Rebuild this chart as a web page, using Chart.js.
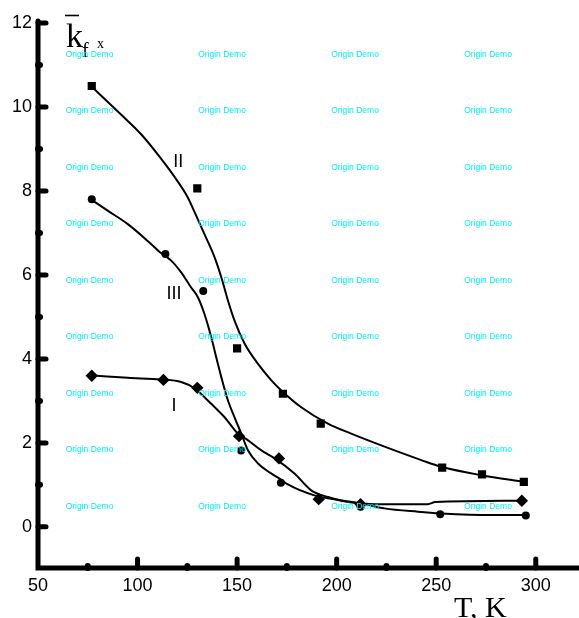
<!DOCTYPE html>
<html>
<head>
<meta charset="utf-8">
<script src="https://cdn.jsdelivr.net/npm/chart.js@4"></script>
<style>
  html, body { margin: 0; padding: 0; background: #fff; overflow: hidden; }
  canvas { display: block; }
</style>
</head>
<body>
<canvas id="c" width="579" height="618"></canvas>
<script>
// Measured points (T in K, mean k_fx)
const tempI   = [77, 113, 130, 151, 171, 191, 212, 293];
const kI      = [3.60, 3.50, 3.31, 2.16, 1.63, 0.66, 0.54, 0.62];
const tempII  = [77, 130, 150, 173, 192, 253, 273, 294];
const kII     = [10.50, 8.06, 4.25, 3.17, 2.46, 1.41, 1.25, 1.07];
const tempIII = [77, 114, 133, 152, 172, 212, 252, 295];
const kIII    = [7.80, 6.50, 5.62, 1.82, 1.05, 0.48, 0.30, 0.27];

// Smoothed curves through each set
const fitTempI  = [76.6, 95.1, 111.8, 121.9, 128.6, 137.0, 143.7, 150.4, 155.5, 162.2, 168.9, 178.8, 187.2, 195.6, 205.6, 219.0, 245.8, 249.5, 291.1];
const fitKI     = [3.61, 3.55, 3.51, 3.45, 3.30, 2.93, 2.61, 2.22, 2.06, 1.82, 1.63, 1.27, 0.87, 0.71, 0.59, 0.54, 0.54, 0.59, 0.62];
const fitTempII = [76.6, 91.7, 101.8, 111.8, 118.5, 125.3, 128.6, 133.6, 138.7, 142.1, 145.4, 148.7, 153.8, 160.5, 167.2, 172.2, 182.2, 195.6, 207.3, 222.4, 242.5, 252.5, 272.6, 294.4];
const fitKII    = [10.50, 9.82, 9.35, 8.77, 8.34, 7.84, 7.50, 6.97, 6.42, 5.94, 5.39, 4.91, 4.36, 3.88, 3.49, 3.25, 2.85, 2.46, 2.22, 1.94, 1.59, 1.43, 1.23, 1.07];
const fitTempIII = [76.6, 85.0, 95.1, 105.1, 111.8, 116.9, 121.9, 126.9, 130.3, 133.6, 137.0, 139.5, 142.1, 145.4, 148.7, 152.1, 155.5, 160.5, 166.5, 172.2, 175.5, 188.8, 202.3, 212.3, 224.0, 240.8, 252.5, 277.6, 294.4];
const fitKIII    = [7.80, 7.53, 7.21, 6.81, 6.52, 6.34, 6.06, 5.70, 5.47, 5.07, 4.52, 4.04, 3.56, 3.01, 2.61, 2.22, 1.82, 1.51, 1.29, 1.12, 1.01, 0.75, 0.63, 0.56, 0.44, 0.36, 0.32, 0.28, 0.28];

// Axis ticks
const xTickValues = [50, 100, 150, 200, 250, 300];
const xMinorValues = [75, 125, 175, 225, 275];
const yTickValues = [0, 2, 4, 6, 8, 10, 12];
const yMinorValues = [1, 3, 5, 7, 9, 11];

// Curve names written beside the lines
const curveNames = ['I', 'II', 'III'];

const pts = (xs, ys) => xs.map((x, i) => ({ x: x, y: ys[i] }));

const fitStyle = { showLine: true, pointRadius: 0, borderColor: '#000', borderWidth: 2,
                   cubicInterpolationMode: 'monotone', fill: false };
const markStyle = { showLine: false, backgroundColor: '#000', borderColor: '#000', borderWidth: 0 };

const decorPlugin = {
  id: 'decor',
  afterDatasetsDraw(chart) {
    const ctx = chart.ctx;
    const xs = chart.scales.x, ys = chart.scales.y;
    const a = chart.chartArea;
    const x0 = a.left, y0 = a.bottom;
    ctx.save();
    ctx.strokeStyle = '#000';
    ctx.lineCap = 'round';

    // axis lines
    ctx.lineWidth = 5;
    ctx.beginPath();
    ctx.moveTo(x0, a.top - 2);
    ctx.lineTo(x0, y0);
    ctx.lineTo(chart.width + 5, y0);
    ctx.stroke();

    // major ticks, pointing into the plot
    ctx.lineWidth = 5;
    yTickValues.forEach(v => {
      const p = ys.getPixelForValue(v);
      ctx.beginPath(); ctx.moveTo(x0, p); ctx.lineTo(x0 + 8, p); ctx.stroke();
    });
    xTickValues.filter(v => v > 50).forEach(v => {
      const p = xs.getPixelForValue(v);
      ctx.beginPath(); ctx.moveTo(p, y0); ctx.lineTo(p, y0 - 9); ctx.stroke();
    });
    // minor ticks as short round bumps
    ctx.lineWidth = 6;
    yMinorValues.forEach(v => {
      const p = ys.getPixelForValue(v);
      ctx.beginPath(); ctx.moveTo(x0, p); ctx.lineTo(x0 + 2, p); ctx.stroke();
    });
    xMinorValues.forEach(v => {
      const p = xs.getPixelForValue(v);
      ctx.beginPath(); ctx.moveTo(p, y0); ctx.lineTo(p, y0 - 2); ctx.stroke();
    });

    // curve names
    ctx.fillStyle = '#000';
    ctx.font = '18px "Liberation Sans", Arial, sans-serif';
    ctx.textAlign = 'center';
    ctx.textBaseline = 'middle';
    const namePos = { 'I': [118.3, 2.89], 'II': [120.4, 8.71], 'III': [118.3, 5.58] };
    curveNames.forEach(n => {
      const [tx, ty] = namePos[n];
      ctx.fillText(n, xs.getPixelForValue(tx), ys.getPixelForValue(ty) + 1);
    });

    // axis titles
    ctx.textAlign = 'left';
    ctx.textBaseline = 'alphabetic';
    ctx.font = '30px "Liberation Serif", "Times New Roman", serif';
    ctx.fillText('T, K', 454, 617);

    ctx.font = '34px "Liberation Serif", "Times New Roman", serif';
    ctx.fillText('k', 66, 47);
    ctx.lineWidth = 1.6;
    ctx.lineCap = 'butt';
    ctx.beginPath(); ctx.moveTo(65, 15.5); ctx.lineTo(79, 15.5); ctx.stroke();
    ctx.font = '20px "Liberation Serif", "Times New Roman", serif';
    ctx.fillText('f', 82, 57);
    ctx.font = '14px "Liberation Serif", "Times New Roman", serif';
    ctx.fillText('x', 97, 48);

    // demo watermark grid
    ctx.fillStyle = '#00f0f0';
    ctx.font = '8.5px "Liberation Sans", Arial, sans-serif';
    ctx.textAlign = 'center';
    ctx.textBaseline = 'middle';
    const cols = [89.5, 222, 355, 488];
    for (let r = 0; r < 9; r++) {
      const yy = 54.5 + r * 56.5;
      cols.forEach(cx => ctx.fillText('Origin Demo', cx, yy));
    }
    ctx.restore();
  }
};

new Chart(document.getElementById('c'), {
  type: 'scatter',
  data: {
    datasets: [
      Object.assign({ data: pts(fitTempI, fitKI) }, fitStyle),
      Object.assign({ data: pts(fitTempII, fitKII) }, fitStyle),
      Object.assign({ data: pts(fitTempIII, fitKIII) }, fitStyle),
      Object.assign({ data: pts(tempI, kI), pointStyle: 'rectRot', pointRadius: 6.2 }, markStyle),
      Object.assign({ data: pts(tempII, kII), pointStyle: 'rect', pointRadius: 5.8 }, markStyle),
      Object.assign({ data: pts(tempIII, kIII), pointStyle: 'circle', pointRadius: 4 }, markStyle)
    ]
  },
  options: {
    responsive: false,
    animation: false,
    devicePixelRatio: 1,
    layout: { padding: { top: 23, right: 0, left: 0, bottom: 0 } },
    plugins: { legend: { display: false }, tooltip: { enabled: false } },
    elements: { point: { hoverRadius: 0 } },
    scales: {
      x: {
        type: 'linear', min: 50, max: 318.6,
        grid: { display: false, drawTicks: false },
        border: { display: false },
        afterFit: s => { s.height = 50; },
        afterBuildTicks: s => { s.ticks = xTickValues.map(v => ({ value: v })); },
        ticks: { color: '#000', padding: 7, font: { family: '"Liberation Sans", Arial, sans-serif', size: 18 } }
      },
      y: {
        type: 'linear', min: -0.98, max: 12,
        grid: { display: false, drawTicks: false },
        border: { display: false },
        afterFit: s => { s.width = 38; },
        afterBuildTicks: s => { s.ticks = yTickValues.map(v => ({ value: v })); },
        ticks: { color: '#000', padding: 6, font: { family: '"Liberation Sans", Arial, sans-serif', size: 18 } }
      }
    }
  },
  plugins: [decorPlugin]
});
</script>
</body>
</html>
